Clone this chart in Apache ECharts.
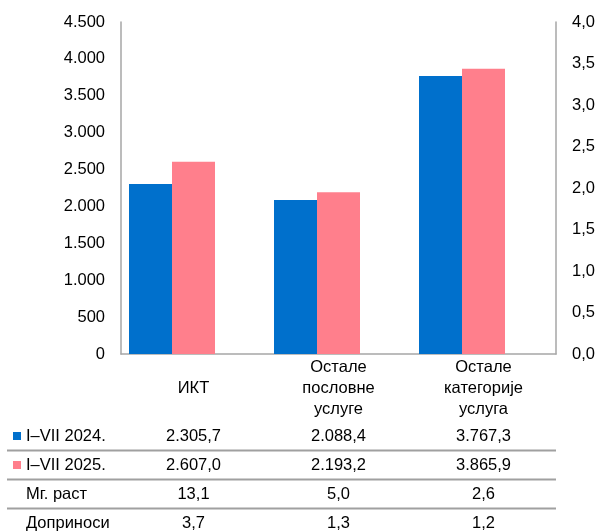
<!DOCTYPE html>
<html>
<head>
<meta charset="utf-8">
<script src="https://cdn.jsdelivr.net/npm/echarts@6/dist/echarts.min.js"></script>
<style>
  html, body { margin: 0; padding: 0; background: #fff; }
  #chart { width: 600px; height: 531px; }
</style>
</head>
<body>
<div id="chart"></div>
<script>
// категорије и вредности
var categories = ['ИКТ', 'Остале\nпословне\nуслуге', 'Остале\nкатегорије\nуслуга'];
var seriesNames = ['I–VII 2024.', 'I–VII 2025.'];
var values2024 = [2305.7, 2088.4, 3767.3];
var values2025 = [2607.0, 2193.2, 3865.9];
var growth = [13.1, 5.0, 2.6];
var contributions = [3.7, 1.3, 1.2];
var colors = ['#0070CC', '#FF7F8C'];

var font = 'Liberation Sans, Arial, sans-serif';
var fs = 16.5;

function fmtThousands(v, dec) {
  var s = v.toFixed(dec);
  var parts = s.split('.');
  parts[0] = parts[0].replace(/\B(?=(\d{3})+(?!\d))/g, '.');
  return parts.length > 1 ? parts[0] + ',' + parts[1] : parts[0];
}

var chart = echarts.init(document.getElementById('chart'));

var option = {
  animation: false,
  textStyle: { fontFamily: font },
  grid: { left: 121, right: 44, top: 22, bottom: 177 },
  xAxis: {
    type: 'category',
    data: categories,
    axisLine: { lineStyle: { color: '#a6a6a6', width: 1.5 } },
    axisTick: { show: false },
    axisLabel: {
      color: '#000', fontSize: fs, fontFamily: font,
      lineHeight: 21, verticalAlign: 'middle', margin: 34, interval: 0
    }
  },
  yAxis: [{
    type: 'value', min: 0, max: 4500, interval: 500,
    splitLine: { show: false },
    axisLine: { show: true, lineStyle: { color: '#a6a6a6', width: 1.5 } },
    axisLabel: {
      color: '#000', fontSize: fs, fontFamily: font, margin: 16,
      formatter: function (v) { return fmtThousands(v, 0); }
    }
  }, {
    type: 'value', min: 0, max: 4, interval: 0.5, position: 'right',
    splitLine: { show: false },
    axisLine: { show: true, lineStyle: { color: '#a6a6a6', width: 1.5 } },
    axisLabel: {
      color: '#000', fontSize: fs, fontFamily: font, margin: 16,
      formatter: function (v) { return v.toFixed(1).replace('.', ','); }
    }
  }],
  series: [{
    name: seriesNames[0], type: 'bar', data: values2024,
    itemStyle: { color: colors[0] },
    barWidth: 43, barGap: '0%'
  }, {
    name: seriesNames[1], type: 'bar', data: values2025,
    itemStyle: { color: colors[1] },
    barWidth: 43, barGap: '0%'
  }, {
    // доприноси на десној оси, без испуне (као у оригиналу)
    name: 'Доприноси', type: 'bar', data: contributions, yAxisIndex: 1,
    itemStyle: { color: 'rgba(0,0,0,0)' },
    barWidth: 43, barGap: '0%', silent: true
  }]
};

chart.setOption(option);

// табела испод графикона
var rows = [
  { label: seriesNames[0], color: colors[0], vals: values2024.map(function (v) { return fmtThousands(v, 1); }) },
  { label: seriesNames[1], color: colors[1], vals: values2025.map(function (v) { return fmtThousands(v, 1); }) },
  { label: 'Мг. раст', vals: growth.map(function (v) { return fmtThousands(v, 1); }) },
  { label: 'Доприноси', vals: contributions.map(function (v) { return fmtThousands(v, 1); }) }
];

var rowTop = 436, rowStep = 29;
var elements = [];
rows.forEach(function (row, r) {
  var y = rowTop + r * rowStep;
  if (row.color) {
    elements.push({ type: 'rect', shape: { x: 13, y: y - 4, width: 8, height: 8 }, style: { fill: row.color } });
  }
  elements.push({
    type: 'text', x: 26, y: y,
    style: { text: row.label, fill: '#000', font: fs + 'px ' + font, verticalAlign: 'middle' }
  });
  row.vals.forEach(function (t, i) {
    var cx = chart.convertToPixel({ xAxisIndex: 0 }, i);
    elements.push({
      type: 'text', x: cx, y: y,
      style: { text: t, fill: '#000', font: fs + 'px ' + font, align: 'center', verticalAlign: 'middle' }
    });
  });
  if (r < rows.length - 1) {
    var ly = y + rowStep / 2;
    elements.push({ type: 'line', shape: { x1: 7, y1: ly, x2: 556, y2: ly }, style: { stroke: '#a0a0a0', lineWidth: 2 } });
  }
});

chart.setOption({ graphic: { elements: elements } });
</script>
</body>
</html>
